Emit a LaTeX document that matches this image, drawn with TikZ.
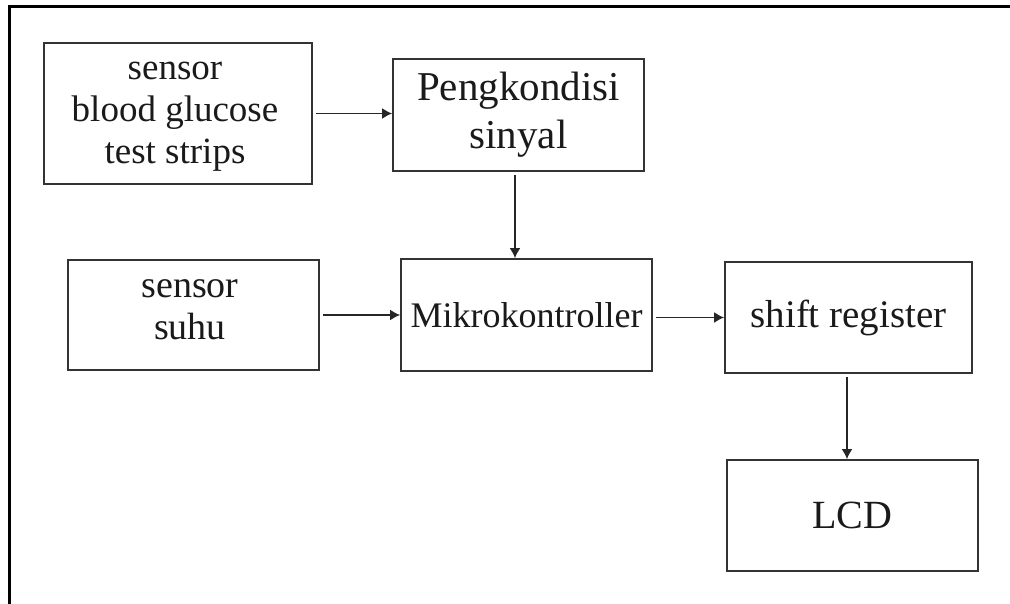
\documentclass[tikz,border=0pt]{standalone}
\usepackage{fontspec}
\setmainfont{Liberation Serif}
\usetikzlibrary{arrows.meta}
\definecolor{boxline}{HTML}{333333}
\definecolor{txtcol}{HTML}{1A1A1A}
\tikzset{
  blockbox/.style={draw=boxline, line width=1.7pt, rectangle, inner sep=0pt, text=txtcol, align=center},
  blocktxt/.style={inner sep=0pt, text=txtcol, align=center},
  arr/.style={draw=black!85, line width=1.8pt, -{Latex[length=10pt,width=11pt]}, shorten <=3pt},
}
\begin{document}
\begin{tikzpicture}[x=1pt,y=-1pt]
\clip (0,0) rectangle (1010,603);
\fill[white] (0,0) rectangle (1010,603);
% outer frame
\draw[line width=3pt, black] (9,620) -- (9,6) -- (1030,6);

\node[blockbox, minimum width=268pt, minimum height=141pt] (sensorbg) at (178,113.5) {};
\node[blocktxt, font=\fontsize{37}{42}\selectfont] (sensorbgtxt) at (175,117) {sensor\\blood glucose\\test strips};

\node[blockbox, minimum width=251pt, minimum height=112pt, font=\fontsize{41}{48}\selectfont] (peng) at (518.5,115) {Pengkondisi\\sinyal};

\node[blockbox, minimum width=251pt, minimum height=110pt] (suhu) at (193.5,315) {};
\node[blocktxt, font=\fontsize{38}{42}\selectfont] (suhutxt) at (190,309.5) {sensor\\suhu};

\node[blockbox, minimum width=251pt, minimum height=112pt, font=\fontsize{36}{40}\selectfont] (mikro) at (526.5,315) {Mikrokontroller};

\node[blockbox, minimum width=247pt, minimum height=111pt, font=\fontsize{39}{44}\selectfont] (shift) at (848.5,317.5) {shift register};

\node[blockbox, minimum width=251pt, minimum height=111pt, font=\fontsize{40}{46}\selectfont] (lcd) at (852.5,515.5) {LCD};

\draw[arr] (sensorbg.east) -- (sensorbg.east -| peng.west);
\draw[arr] ([xshift=-3.5pt]peng.south) -- ([xshift=-3.5pt]peng.south |- mikro.north);
\draw[arr] (suhu.east) -- (suhu.east -| mikro.west);
\draw[arr] (shift.west -| mikro.east) -- (shift.west);
\draw[arr] ([xshift=-1.5pt]shift.south) -- ([xshift=-1.5pt]shift.south |- lcd.north);
\end{tikzpicture}
\end{document}
